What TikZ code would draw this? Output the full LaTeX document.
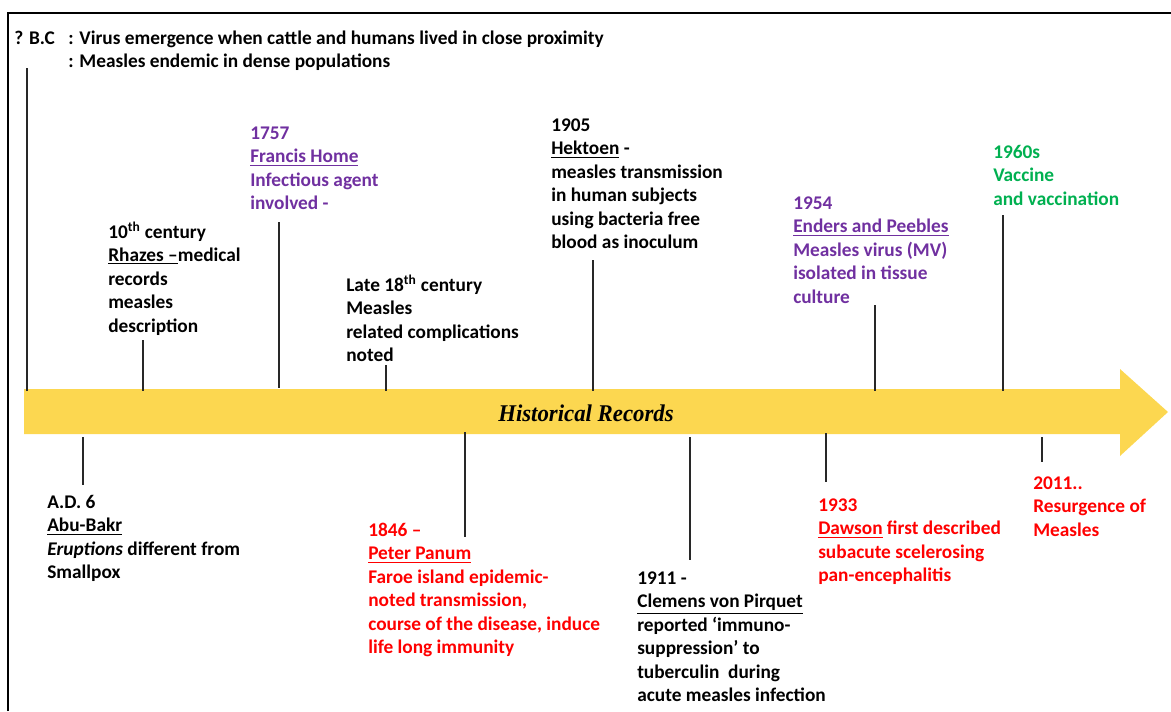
\documentclass[tikz,border=0pt]{standalone}
\usepackage{fontspec}
\setmainfont{Carlito}
\newfontfamily\recfont{Liberation Serif}
\definecolor{arrowyellow}{RGB}{252,215,80}
\definecolor{evpurple}{RGB}{112,48,160}
\definecolor{evgreen}{RGB}{0,176,80}
\definecolor{evred}{RGB}{255,0,0}
\definecolor{tickgray}{RGB}{40,40,40}
\newcommand{\evstrut}{\rule{0pt}{11pt}}
\begin{document}
\begin{tikzpicture}[x=0.75pt,y=-0.75pt,
  evtext/.style={anchor=north west, inner sep=0pt, align=left,
    font=\fontsize{14.5}{17.6}\selectfont\bfseries},
  ticksty/.style={draw=tickgray, line width=1.5pt},
  framesty/.style={draw=black, line width=1.8pt}]
\useasboundingbox (0,0) rectangle (1171,711);
% frame
\draw[framesty] (8,711) -- (8,13) -- (1171,13);
% arrow
\fill[arrowyellow] (24,389) -- (1120,389) -- (1120,369) -- (1168,412)
  -- (1120,456) -- (1120,434) -- (24,434) -- cycle;
\node[inner sep=0pt, font=\recfont\fontsize{18}{20}\selectfont\bfseries\itshape,
  xscale=0.95] (rec) at (586,413) {Historical Records};
% header
\node[evtext] (bc) at (14,29.5) {\evstrut ? B.C};
\node[evtext] (bctext) at (68,29.5) {\evstrut : Virus emergence when cattle and humans lived in close proximity\\: Measles endemic in dense populations};
% upper events
\node[evtext] (rhazes) at (108,221.5) {\evstrut 10\textsuperscript{th} century\\\underline{Rhazes --}medical\\records\\measles\\description};
\node[evtext, text=evpurple] (home) at (250,124.5) {\evstrut 1757\\\underline{Francis Home}\\Infectious agent\\involved -};
\node[evtext] (late) at (346,274.5) {\evstrut Late 18\textsuperscript{th} century\\Measles\\related complications\\noted};
\node[evtext] (hektoen) at (551,116.5) {\evstrut 1905\\\underline{Hektoen} -\\measles transmission\\in human subjects\\using bacteria free\\blood as inoculum};
\node[evtext, text=evpurple] (enders) at (793,194.5) {\evstrut 1954\\\underline{Enders and Peebles}\\Measles virus (MV)\\isolated in tissue\\culture};
\node[evtext, text=evgreen] (vaccine) at (993,143.5) {\evstrut 1960s\\Vaccine\\and vaccination};
% lower events
\node[evtext] (abubakr) at (47,493.5) {\evstrut A.D. 6\\\underline{Abu-Bakr}\\\textit{Eruptions} different from\\Smallpox};
\node[evtext, text=evred] (panum) at (368,521.5) {\evstrut 1846 --\\\underline{Peter Panum}\\Faroe island epidemic-\\noted transmission,\\course of the disease, induce\\life long immunity};
\node[evtext] (pirquet) at (637,569.5) {\evstrut 1911 -\\\underline{Clemens von Pirquet}\\reported `immuno-\\suppression' to\\tuberculin\ \ during\\acute measles infection};
\node[evtext, text=evred] (dawson) at (818,496.5) {\evstrut 1933\\\underline{Dawson} first described\\subacute scelerosing\\pan-encephalitis};
\node[evtext, text=evred] (resurg) at (1033,474.5) {\evstrut 2011..\\Resurgence of\\Measles};
% tick coordinates
\coordinate (t0a) at (27,68);   \coordinate (t0b) at (27,391);
\coordinate (t1a) at (143,340); \coordinate (t1b) at (143,391);
\coordinate (t2a) at (279,222); \coordinate (t2b) at (279,388);
\coordinate (t3a) at (386,365); \coordinate (t3b) at (386,391);
\coordinate (t4a) at (593,260); \coordinate (t4b) at (593,391);
\coordinate (t5a) at (875,305); \coordinate (t5b) at (875,391);
\coordinate (t6a) at (1003,215); \coordinate (t6b) at (1003,391);
\coordinate (b1a) at (83,437);  \coordinate (b1b) at (83,485);
\coordinate (b2a) at (465,432); \coordinate (b2b) at (465,537);
\coordinate (b3a) at (690,437); \coordinate (b3b) at (690,560);
\coordinate (b4a) at (826,433); \coordinate (b4b) at (826,482);
\coordinate (b5a) at (1042,437); \coordinate (b5b) at (1042,462);
\foreach \p in {t0,t1,t2,t3,t4,t5,t6,b1,b2,b3,b4,b5}
  \draw[ticksty] (\p a) -- (\p b);
\end{tikzpicture}
\end{document}
